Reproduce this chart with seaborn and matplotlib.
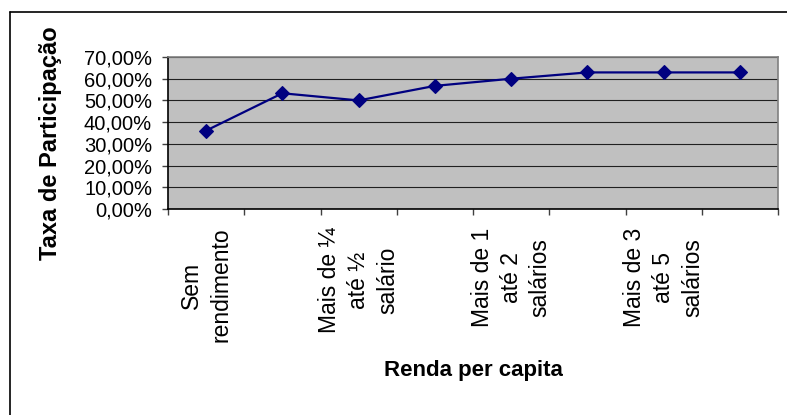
import numpy as np
import pandas as pd
import matplotlib
matplotlib.use("Agg")
import matplotlib.pyplot as plt
from matplotlib.lines import Line2D
from matplotlib.ticker import FuncFormatter, FixedLocator
import seaborn as sns

# Taxa de participação por faixa de renda per capita (em %)
categorias = [
    "Sem rendimento",
    "Até ¼ salário",
    "Mais de ¼ até ½ salário",
    "Mais de ½ até 1 salário",
    "Mais de 1 até 2 salários",
    "Mais de 2 até 3 salários",
    "Mais de 3 até 5 salários",
    "Mais de 5 salários",
]
taxa = [36.1, 53.3, 50.0, 56.7, 60.0, 62.9, 62.9, 62.9]

# Rótulos exibidos no eixo (uma faixa sim, outra não)
rotulos_x = [
    "Sem\nrendimento",
    "",
    "Mais de ¼\naté ½\nsalário",
    "",
    "Mais de 1\naté 2\nsalários",
    "",
    "Mais de 3\naté 5\nsalários",
    "",
]
ticks_y = [0, 10, 20, 30, 40, 50, 60, 70]

sns.set_style("white")
plt.rcParams["font.family"] = ["Liberation Sans", "DejaVu Sans"]
plt.rcParams["text.color"] = "black"
plt.rcParams["axes.labelcolor"] = "black"

df = pd.DataFrame({"categoria": categorias, "taxa": taxa})

W, H = 787, 415
fig = plt.figure(figsize=(W / 100, H / 100), dpi=100)
left, right, top, bottom = 168, 778, 57, 209
ax = fig.add_axes([left / W, 1 - bottom / H, (right - left) / W, (bottom - top) / H])
ax.set_facecolor("#C0C0C0")

sns.lineplot(
    data=df, x="categoria", y="taxa", ax=ax, sort=False,
    color="#000080", linewidth=1.6, marker="D", markersize=7,
    markeredgecolor="#000080", markeredgewidth=0.8,
)

ax.set_xlim(-0.5, len(categorias) - 0.5)
ax.set_ylim(0, 70)

# Grade horizontal
ax.set_yticks(ticks_y)
ax.yaxis.set_major_formatter(FuncFormatter(lambda v, _: f"{v:.2f}%".replace(".", ",")))
ax.grid(axis="y", color="#202020", linewidth=0.8)
ax.grid(axis="x", visible=False)
ax.set_axisbelow(True)

# Eixo x: marcas entre as categorias, rótulos no centro
ax.set_xticks(range(len(categorias)))
ax.set_xticklabels(rotulos_x, rotation=90, multialignment="center",
                   fontsize=16.5, linespacing=1.32)
ax.xaxis.set_minor_locator(FixedLocator(np.arange(-0.5, len(categorias), 1.0)))
ax.tick_params(axis="x", which="major", length=0, pad=13.5, labelcolor="black")
ax.tick_params(axis="x", which="minor", length=4.5, width=1, color="#404040",
               bottom=True, direction="out")
ax.tick_params(axis="y", which="major", length=4.5, width=1, color="#404040",
               left=True, direction="out", labelsize=14.5, pad=7,
               labelcolor="black")

# Bordas da área de plotagem
ax.spines["left"].set_color("black")
ax.spines["bottom"].set_color("black")
ax.spines["top"].set_color("#808080")
ax.spines["right"].set_color("#808080")
for s in ax.spines.values():
    s.set_linewidth(1.2)
    s.set_visible(True)

ax.set_xlabel("Renda per capita", fontsize=16, fontweight="bold", color="black")
ax.set_ylabel("Taxa de Participação", fontsize=17, fontweight="bold", color="black")
ax.xaxis.label.set_va("center")
ax.yaxis.label.set_va("center")
ax.xaxis.set_label_coords(0.5, (bottom - 370) / (bottom - top))
ax.yaxis.set_label_coords((51 - left) / (right - left), (bottom - 143) / (bottom - top))

# Moldura externa do gráfico
x0 = 10 / W
y0 = 1 - 12 / H
fig.add_artist(Line2D([x0, x0], [0, y0], transform=fig.transFigure,
                      color="black", linewidth=1.2))
fig.add_artist(Line2D([x0, 1], [y0, y0], transform=fig.transFigure,
                      color="black", linewidth=1.2))

fig.savefig("out.png", dpi=100, facecolor="white")
